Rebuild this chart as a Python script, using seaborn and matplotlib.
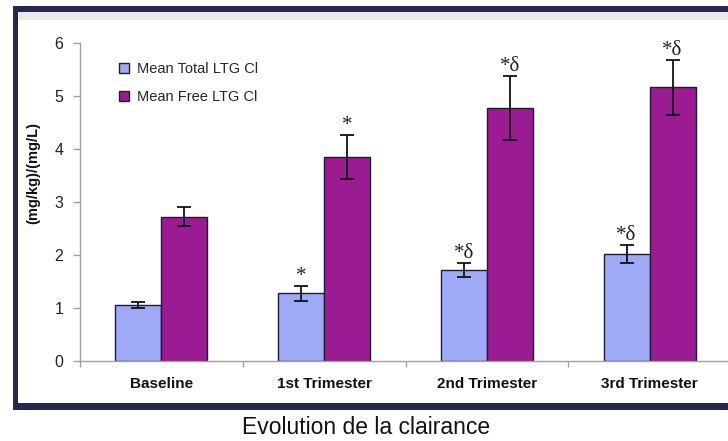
import matplotlib
matplotlib.use("Agg")
import matplotlib.pyplot as plt
import seaborn as sns
import pandas as pd
from matplotlib.patches import Rectangle
from matplotlib.lines import Line2D

# ---- data ----
categories = ["Baseline", "1st Trimester", "2nd Trimester", "3rd Trimester"]
series_names = ["Mean Total LTG Cl", "Mean Free LTG Cl"]
total_cl = [1.05, 1.27, 1.71, 2.01]
total_err = [0.06, 0.135, 0.14, 0.165]
free_cl = [2.72, 3.84, 4.77, 5.16]
free_err = [0.18, 0.41, 0.60, 0.515]
total_marks = ["", "*", "*δ", "*δ"]
free_marks = ["", "*", "*δ", "*δ"]
y_ticks = [0, 1, 2, 3, 4, 5, 6]
y_label = "(mg/kg)/(mg/L)"
title = "Evolution de la clairance"

df = pd.DataFrame({
    "Period": categories * 2,
    "Series": [series_names[0]] * len(categories) + [series_names[1]] * len(categories),
    "Value": total_cl + free_cl,
})

BLUE = "#9eaaf8"
PURPLE = "#9a1b92"
NAVY = "#252850"
EDGE = "#1c1c2c"
GRAY = "#a0a0a0"

sns.set_theme(style="white")
plt.rcParams['font.family'] = ['Liberation Sans', 'DejaVu Sans']

W, H = 728, 441
fig = plt.figure(figsize=(W / 100, H / 100), dpi=100)
fig.patch.set_facecolor("white")


def fx(px):
    return px / W


def fy(py):
    return 1 - py / H


# frame
fig.patches.append(Rectangle((fx(13), fy(410)), fx(800 - 13), (410 - 6) / H,
                             transform=fig.transFigure, facecolor=NAVY,
                             edgecolor='none', zorder=-10))
fig.patches.append(Rectangle((fx(18), fy(403)), fx(800 - 18), (403 - 12) / H,
                             transform=fig.transFigure, facecolor="white",
                             edgecolor='none', zorder=-9))
fig.patches.append(Rectangle((fx(18), fy(20)), fx(800 - 18), (20 - 12) / H,
                             transform=fig.transFigure, facecolor="#e9e9ea",
                             edgecolor='none', zorder=-8))

ax = fig.add_axes([fx(80), fy(360.7), 651 / W, 318 / H])
ax.set_facecolor('none')

sns.barplot(data=df, x="Period", y="Value", hue="Series",
            palette=[BLUE, PURPLE], width=0.566, errorbar=None,
            edgecolor=EDGE, linewidth=1.0, ax=ax, legend=False,
            saturation=1)

for cont, errs, marks in zip(ax.containers, [total_err, free_err], [total_marks, free_marks]):
    xs = [b.get_x() + b.get_width() / 2 for b in cont]
    hs = [b.get_height() for b in cont]
    ax.errorbar(xs, hs, yerr=errs, fmt='none', ecolor='#111111',
                elinewidth=1.3, capsize=5, capthick=1.3, zorder=5)
    for x, h, e, m in zip(xs, hs, errs, marks):
        if m:
            ax.annotate(m, (x, h + e), xytext=(0, 0), textcoords='offset points',
                        ha='center', va='bottom', fontsize=15,
                        family=['Liberation Serif', 'DejaVu Serif'], color="#222222")

ax.set_ylim(0, 6)
ax.set_xlim(-0.5, 3.5)
ax.set_yticks(y_ticks)
ax.set_yticklabels([str(t) for t in y_ticks])
for s in ["top", "right"]:
    ax.spines[s].set_visible(False)
for s in ["left", "bottom"]:
    ax.spines[s].set_color(GRAY)
    ax.spines[s].set_linewidth(1.0)

ax.tick_params(axis='y', which='major', left=True, length=5, width=1, color=GRAY,
               labelsize=11.5, pad=7, labelcolor="#222222")
ax.set_xticks(range(len(categories)))
ax.set_xticklabels(categories, fontweight='bold', fontsize=11)
ax.tick_params(axis='x', which='major', bottom=False, length=0, pad=12, labelcolor="#111111")
ax.set_xticks([i - 0.5 for i in range(len(categories) + 1)], minor=True)
ax.tick_params(axis='x', which='minor', bottom=True, length=4, width=1, color=GRAY)

ax.set_xlabel("")
ax.set_ylabel(y_label, fontweight='bold', fontsize=10.5, color="#111111")
ax.yaxis.set_label_coords(-0.061, 0.59)

handles = [Line2D([], [], marker='s', linestyle='none', markersize=7,
                  markerfacecolor=c, markeredgecolor="#222222", markeredgewidth=1)
           for c in [BLUE, PURPLE]]
fig.legend(handles, series_names, loc='upper left',
           bbox_to_anchor=(fx(118), fy(62)), frameon=False, fontsize=10.5,
           handlelength=0.8, handletextpad=0.5, labelspacing=0.95, borderpad=0,
           borderaxespad=0)

fig.text(fx(366), fy(427), title, ha='center', va='center', fontsize=16.5, color="#111111")

fig.savefig("out.png", dpi=100)
